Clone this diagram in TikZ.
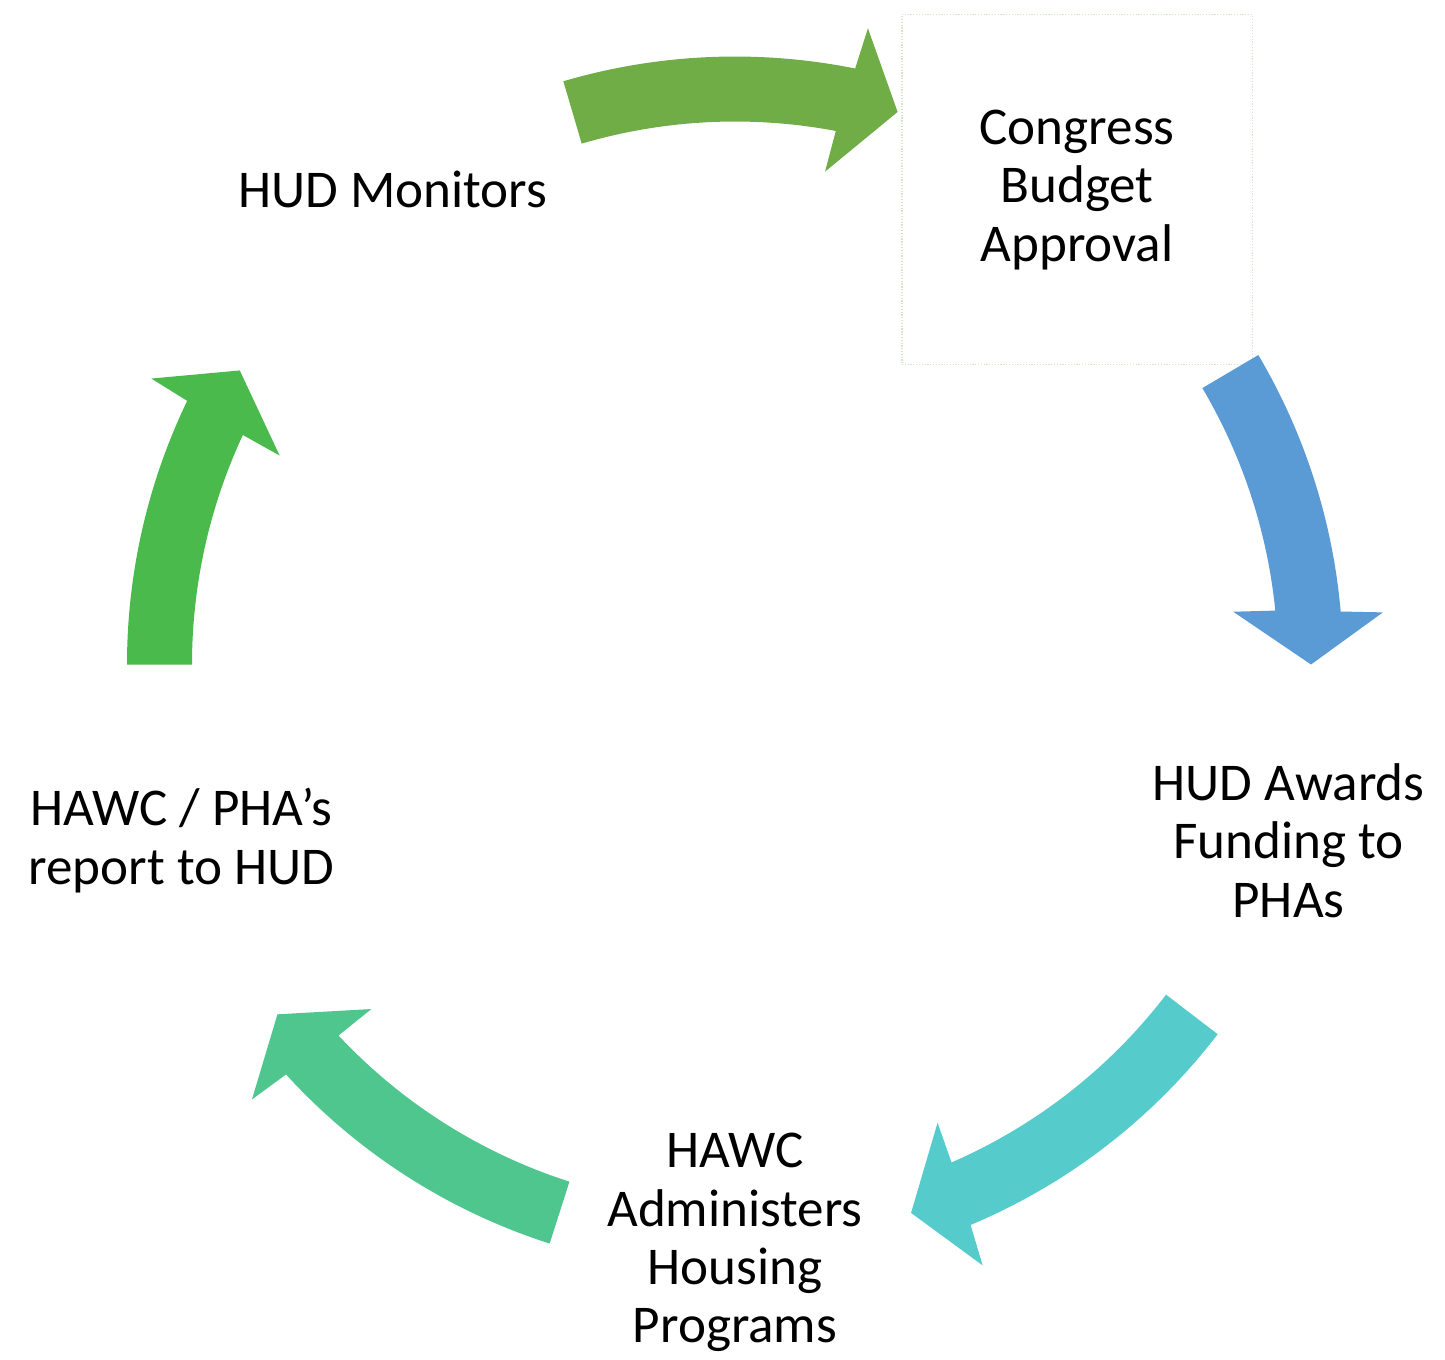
\documentclass[tikz,border=0pt]{standalone}
\usepackage{fontspec}
\setmainfont{Carlito}
\definecolor{stepGreen}{HTML}{70AD47}
\definecolor{stepBlue}{HTML}{5B9BD5}
\definecolor{stepTeal}{HTML}{55CBCC}
\definecolor{stepMint}{HTML}{4FC68D}
\definecolor{stepLeaf}{HTML}{4ABA4C}
\definecolor{boxLine}{HTML}{D3E6C6}
\tikzset{%
  % Specifications for style of nodes:
       stage/.style = {minimum width=3.5cm, minimum height=3.5cm,
                       align=center, inner sep=0pt,
                       font=\fontsize{15.1pt}{16.6pt}\selectfont},
  stageFramed/.style = {stage, draw=boxLine, line width=0.35pt,
                       dash pattern=on 0.35pt off 0.45pt},
}
% curved block arrow on the ring: colour, tail angle, tip angle
\newcommand{\ringArrow}[3]{%
  \fill[#1] (#2:608) arc[start angle=#2, end angle={#3+5.0}, radius=608]
    -- ({#3+4.6}:650) -- (#3:576) -- ({#3+6.05}:501)
    -- ({#3+5.7}:543) arc[start angle={#3+5.7}, end angle=#2, radius=543]
    -- cycle;}

\begin{document}
\begin{tikzpicture}[x=0.01cm, y=0.01cm]
  \useasboundingbox (0,0) rectangle (1445,1359);

  \begin{scope}[shift={(735,698.4)}]
  % Specification of nodes (position on the ring)
  \node (congress)    [stageFramed] at (54:582)  {Congress\\Budget\\Approval};
  \node (awards)      [stage]       at (-18:582) {HUD Awards\\Funding to\\PHAs};
  \node (administers) [stage]       at (-90:582) {HAWC\\Administers\\Housing\\Programs};
  \node (report)      [stage]       at (198:582) {HAWC / PHA’s\\report to HUD};
  \node (monitors)    [stage]       at (126:582) {HUD Monitors};
  \end{scope}

  \begin{scope}[shift={(735,694.5)}]
  % Block arrows between the stages, clockwise
  \ringArrow{stepGreen}{106.4}{73.6}   % monitors -> congress
  \ringArrow{stepBlue}{30.6}{0}        % congress -> awards
  \ringArrow{stepTeal}{-37.45}{-72.2}  % awards -> administers
  \ringArrow{stepMint}{252.25}{217.4}  % administers -> report
  \ringArrow{stepLeaf}{180}{149.3}     % report -> monitors
  \end{scope}
\end{tikzpicture}
\end{document}
